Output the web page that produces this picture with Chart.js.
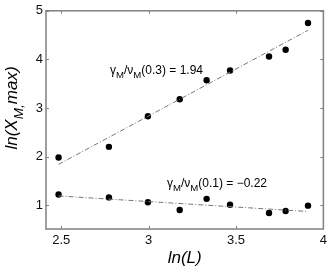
<!DOCTYPE html>
<html>
<head>
<meta charset="utf-8">
<script src="https://cdn.jsdelivr.net/npm/chart.js@4"></script>
<style>
  html, body { margin: 0; padding: 0; background: #fff; }
  #wrap { width: 331px; height: 268px; }
</style>
</head>
<body>
<div id="wrap"><canvas id="chart" width="331" height="268"></canvas></div>
<script>
// ln(L) values and measured ln(X_M,max)
const lnL = [2.485, 2.773, 2.996, 3.178, 3.332, 3.466, 3.689, 3.784, 3.912];
const upperY = [1.98, 2.20, 2.83, 3.18, 3.57, 3.77, 4.06, 4.20, 4.75];
const lowerY = [1.22, 1.16, 1.06, 0.90, 1.13, 1.01, 0.84, 0.88, 0.99];

// fitted lines (end points)
const fitX = [2.485, 3.912];
const upperFit = [1.84, 4.60];
const lowerFit = [1.19, 0.87];

const xTicks = [2.5, 3, 3.5, 4];
const yTicks = [1, 2, 3, 4, 5];

const FONT = '"Liberation Sans", Arial, Helvetica, sans-serif';

function pts(xs, ys) {
    return xs.map((x, i) => ({ x: x, y: ys[i] }));
}

// draw text with a subscript piece, returns new x
function drawParts(ctx, parts, x, y, size) {
    parts.forEach(p => {
        const s = p.sub ? size * 0.8 : size;
        ctx.font = (p.italic ? 'italic ' : '') + s + 'px ' + FONT;
        ctx.fillText(p.t, x, y + (p.sub ? size * 0.35 : 0));
        x += ctx.measureText(p.t).width;
    });
    return x;
}

const framePlugin = {
    id: 'frame',
    afterDraw(chart) {
        const ctx = chart.ctx;
        const a = chart.chartArea;
        const xs = chart.scales.x, ys = chart.scales.y;
        ctx.save();
        ctx.strokeStyle = '#808080';
        ctx.lineWidth = 1.5;
        ctx.strokeRect(a.left, a.top, a.right - a.left, a.bottom - a.top);
        ctx.lineWidth = 1;
        ctx.beginPath();
        xTicks.forEach(v => {
            const px = Math.round(xs.getPixelForValue(v)) + 0.5;
            ctx.moveTo(px, a.bottom); ctx.lineTo(px, a.bottom - 3);
            ctx.moveTo(px, a.top); ctx.lineTo(px, a.top + 3);
        });
        yTicks.forEach(v => {
            const py = Math.round(ys.getPixelForValue(v)) + 0.5;
            ctx.moveTo(a.left, py); ctx.lineTo(a.left + 3, py);
            ctx.moveTo(a.right, py); ctx.lineTo(a.right - 3, py);
        });
        ctx.stroke();

        // annotations
        ctx.fillStyle = '#000';
        ctx.textBaseline = 'alphabetic';
        ctx.textAlign = 'left';
        drawParts(ctx, [
            { t: 'γ' }, { t: 'M', sub: true }, { t: '/ν' }, { t: 'M', sub: true }, { t: '(0.3) = 1.94' }
        ], 110, 74, 12);
        drawParts(ctx, [
            { t: 'γ' }, { t: 'M', sub: true }, { t: '/ν' }, { t: 'M', sub: true }, { t: '(0.1) = \u22120.22' }
        ], 167, 187, 12);

        // x title
        ctx.font = 'italic 17px ' + FONT;
        ctx.textAlign = 'center';
        ctx.fillText('ln(L)', (a.left + a.right) / 2, 263);

        // y title, rotated
        ctx.translate(17, 108);
        ctx.rotate(-Math.PI / 2);
        ctx.textAlign = 'left';
        const parts = [
            { t: 'ln(X', italic: true }, { t: 'M,', italic: true, sub: true }, { t: 'max)', italic: true }
        ];
        let w = 0;
        parts.forEach(p => {
            ctx.font = 'italic ' + (p.sub ? 17 * 0.8 : 17) + 'px ' + FONT;
            w += ctx.measureText(p.t).width;
        });
        drawParts(ctx, parts, -w / 2, 0, 17);
        ctx.restore();
    }
};

new Chart(document.getElementById('chart'), {
    type: 'scatter',
    data: {
        datasets: [
            {
                data: pts(fitX, upperFit), showLine: true, pointRadius: 0,
                borderColor: '#777', borderWidth: 1, borderDash: [5, 2, 1, 2]
            },
            {
                data: pts(fitX, lowerFit), showLine: true, pointRadius: 0,
                borderColor: '#777', borderWidth: 1, borderDash: [5, 2, 1, 2]
            },
            {
                data: pts(lnL, upperY), pointRadius: 3.2,
                backgroundColor: '#000', borderColor: '#000', borderWidth: 0
            },
            {
                data: pts(lnL, lowerY), pointRadius: 3.2,
                backgroundColor: '#000', borderColor: '#000', borderWidth: 0
            }
        ]
    },
    options: {
        responsive: false,
        animation: false,
        layout: { padding: { top: 10, right: 7, left: 0, bottom: 0 } },
        plugins: {
            legend: { display: false },
            tooltip: { enabled: false }
        },
        scales: {
            x: {
                type: 'linear',
                min: 2.413, max: 4,
                afterBuildTicks: s => { s.ticks = xTicks.map(v => ({ value: v })); },
                afterFit: s => { s.height = 39; },
                grid: { display: false, drawTicks: false },
                border: { display: false },
                ticks: {
                    padding: 4,
                    color: '#111',
                    font: { family: FONT, size: 13 },
                    callback: v => String(v)
                }
            },
            y: {
                type: 'linear',
                min: 0.51, max: 5,
                afterBuildTicks: s => { s.ticks = yTicks.map(v => ({ value: v })); },
                afterFit: s => { s.width = 46; },
                grid: { display: false, drawTicks: false },
                border: { display: false },
                ticks: {
                    padding: 3,
                    color: '#111',
                    font: { family: FONT, size: 13 },
                    callback: v => String(v)
                }
            }
        }
    },
    plugins: [framePlugin]
});
</script>
</body>
</html>
